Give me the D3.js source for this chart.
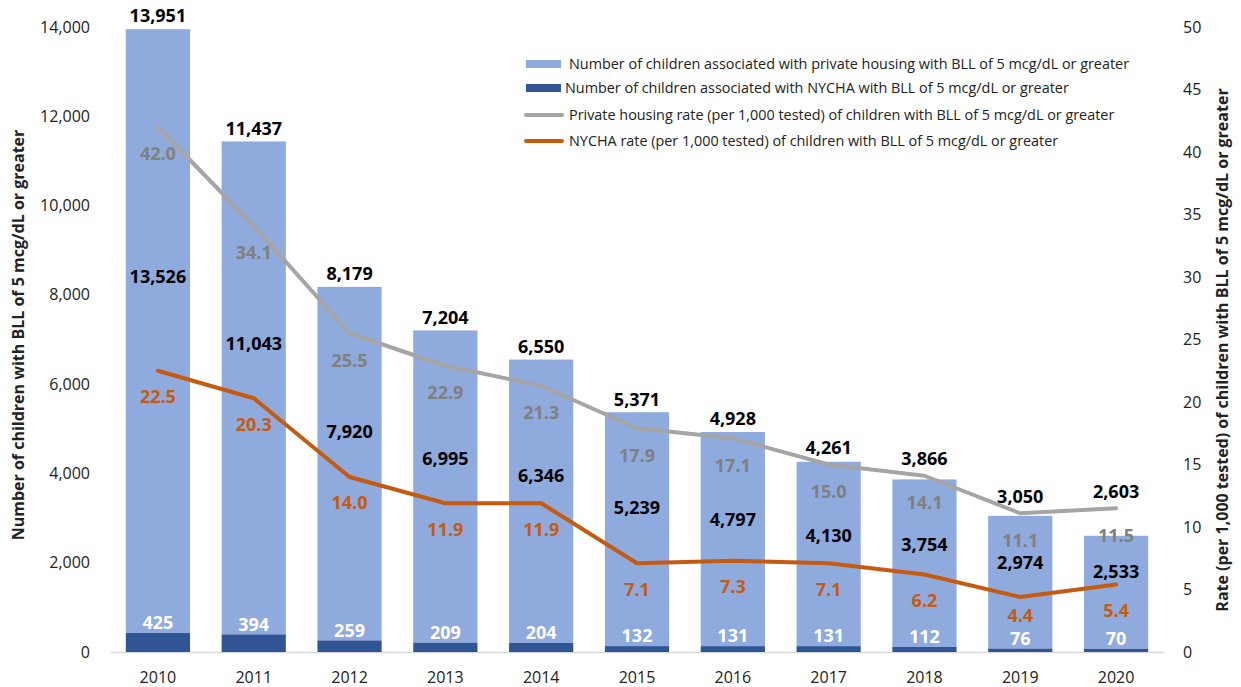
<!DOCTYPE html>
<html>
<head>
<meta charset="utf-8">
<script src="https://cdn.jsdelivr.net/npm/d3@7"></script>
<style>
  body { margin: 0; background: #fff; }
  svg { display: block; font-family: "Open Sans", sans-serif; }
</style>
</head>
<body>
<svg width="1241" height="687"></svg>
<script>
const years = ['2010', '2011', '2012', '2013', '2014', '2015', '2016', '2017', '2018', '2019', '2020'];
const privateCounts = [13526, 11043, 7920, 6995, 6346, 5239, 4797, 4130, 3754, 2974, 2533];
const nychaCounts = [425, 394, 259, 209, 204, 132, 131, 131, 112, 76, 70];
const totals = [13951, 11437, 8179, 7204, 6550, 5371, 4928, 4261, 3866, 3050, 2603];
const privateRate = [42.0, 34.1, 25.5, 22.9, 21.3, 17.9, 17.1, 15.0, 14.1, 11.1, 11.5];
const nychaRate = [22.5, 20.3, 14.0, 11.9, 11.9, 7.1, 7.3, 7.1, 6.2, 4.4, 5.4];
const leftTicks = [0, 2000, 4000, 6000, 8000, 10000, 12000, 14000];
const rightTicks = [0, 5, 10, 15, 20, 25, 30, 35, 40, 45, 50];
const legendLabels = [
  'Number of children associated with private housing with BLL of 5 mcg/dL or greater',
  'Number of children associated with NYCHA with BLL of 5 mcg/dL or greater',
  'Private housing rate (per 1,000 tested) of children with BLL of 5 mcg/dL or greater',
  'NYCHA rate (per 1,000 tested) of children with BLL of 5 mcg/dL or greater'
];

const colors = {priv: '#8faadc', nycha: '#2f5597', privLine: '#a5a5a5', nychaLine: '#c55a11',
                privLabel: '#808080', nychaLabel: '#c55a11'};

const svg = d3.select('svg');
const plotL = 110, plotR = 1164, plotT = 27, plotB = 652;

const x = d3.scaleBand().domain(years).range([plotL, plotR]).paddingInner(0.33).paddingOuter(0.165);
const y = d3.scaleLinear().domain([0, 14000]).range([plotB, plotT]);
const y2 = d3.scaleLinear().domain([0, 50]).range([plotB, plotT]);

//-------------AXES-------------------------------------------
const axisL = svg.append('g')
  .attr('transform', 'translate(' + plotL + ',0)')
  .call(d3.axisLeft(y).tickValues(leftTicks).tickSize(0).tickPadding(20).tickFormat(d3.format(',')));
axisL.select('.domain').remove();
axisL.selectAll('text').attr('font-size', 16).attr('fill', '#222').attr('font-family', '"Open Sans", sans-serif');

const axisR = svg.append('g')
  .attr('transform', 'translate(1183,0)')
  .call(d3.axisRight(y2).tickValues(rightTicks).tickSize(0).tickPadding(0));
axisR.select('.domain').remove();
axisR.selectAll('text').attr('font-size', 16).attr('fill', '#222').attr('font-family', '"Open Sans", sans-serif');

const axisB = svg.append('g')
  .attr('transform', 'translate(0,' + plotB + ')')
  .call(d3.axisBottom(x).tickSize(0).tickPadding(20));
axisB.select('.domain').attr('stroke', '#d9d9d9').attr('stroke-width', 1.5);
axisB.selectAll('text').attr('font-size', 16).attr('fill', '#222').attr('font-family', '"Open Sans", sans-serif');

svg.append('text')
  .attr('transform', 'translate(24,' + 335 + ') rotate(-90)')
  .attr('text-anchor', 'middle')
  .attr('font-size', 16).attr('font-weight', 'bold').attr('fill', '#222')
  .text('Number of children with BLL of 5 mcg/dL or greater');

svg.append('text')
  .attr('transform', 'translate(1228,' + 350 + ') rotate(-90)')
  .attr('text-anchor', 'middle')
  .attr('font-size', 16).attr('font-weight', 'bold').attr('fill', '#222')
  .text('Rate (per 1,000 tested) of children with BLL of 5 mcg/dL or greater');

//-------------BARS-------------------------------------------
const bars = svg.append('g');
years.forEach((yr, i) => {
  bars.append('rect')
    .attr('x', x(yr)).attr('width', x.bandwidth())
    .attr('y', y(nychaCounts[i] + privateCounts[i]))
    .attr('height', y(nychaCounts[i]) - y(nychaCounts[i] + privateCounts[i]))
    .attr('fill', colors.priv);
  bars.append('rect')
    .attr('x', x(yr)).attr('width', x.bandwidth())
    .attr('y', y(nychaCounts[i]))
    .attr('height', y(0) - y(nychaCounts[i]))
    .attr('fill', colors.nycha);
});

//-------------LINES------------------------------------------
const line = d3.line()
  .x((d, i) => x(years[i]) + x.bandwidth() / 2)
  .y(d => y2(d));

svg.append('path').datum(privateRate)
  .attr('fill', 'none').attr('stroke', colors.privLine).attr('stroke-width', 4)
  .attr('stroke-linejoin', 'round').attr('stroke-linecap', 'round')
  .attr('d', line);
svg.append('path').datum(nychaRate)
  .attr('fill', 'none').attr('stroke', colors.nychaLine).attr('stroke-width', 4)
  .attr('stroke-linejoin', 'round').attr('stroke-linecap', 'round')
  .attr('d', line);

//-------------LABELS-----------------------------------------
// label y values below are text centres; dy shifts them onto the baseline
const fmt = d3.format(',');
const labels = svg.append('g').attr('text-anchor', 'middle').attr('font-weight', 'bold').attr('font-size', 18);
years.forEach((yr, i) => {
  const cx = x(yr) + x.bandwidth() / 2;
  const segTop = y(totals[i]);
  const segBot = y(nychaCounts[i]);
  const h = segBot - segTop;
  const grayY = y2(privateRate[i]);
  const orangeY = y2(nychaRate[i]);

  // total: above the bar, but kept clear of the gray line where they meet
  const totalY = Math.min(segTop - 13, grayY - 17);
  labels.append('text').attr('x', cx).attr('y', totalY).attr('dy', '0.35em')
    .attr('fill', '#000').text(fmt(totals[i]));

  const privY = segTop + h * 0.41 - Math.max(0, (200 - h) * 0.12);
  labels.append('text').attr('x', cx).attr('y', privY).attr('dy', '0.35em')
    .attr('fill', '#000').text(fmt(privateCounts[i]));

  labels.append('text').attr('x', cx).attr('y', segBot - 10).attr('dy', '0.35em')
    .attr('fill', '#fff').text(fmt(nychaCounts[i]));

  labels.append('text').attr('x', cx).attr('y', grayY + 27).attr('dy', '0.35em')
    .attr('fill', colors.privLabel).text(privateRate[i].toFixed(1));

  labels.append('text').attr('x', cx).attr('y', Math.min(orangeY + 26, segBot - 33)).attr('dy', '0.35em')
    .attr('fill', colors.nychaLabel).text(nychaRate[i].toFixed(1));
});

//-------------LEGEND-----------------------------------------
const legend = svg.append('g').attr('font-size', 14.4).attr('fill', '#222');
const rowsY = [64, 88, 115, 141];
legend.append('rect').attr('x', 526).attr('y', rowsY[0] - 4).attr('width', 35).attr('height', 8).attr('fill', colors.priv);
legend.append('rect').attr('x', 526).attr('y', rowsY[1] - 4).attr('width', 35).attr('height', 8).attr('fill', colors.nycha);
legend.append('line').attr('x1', 526).attr('x2', 562).attr('y1', rowsY[2]).attr('y2', rowsY[2])
  .attr('stroke', colors.privLine).attr('stroke-width', 4).attr('stroke-linecap', 'round');
legend.append('line').attr('x1', 526).attr('x2', 562).attr('y1', rowsY[3]).attr('y2', rowsY[3])
  .attr('stroke', colors.nychaLine).attr('stroke-width', 4).attr('stroke-linecap', 'round');
const textX = [569, 565, 569, 569];
legendLabels.forEach((t, i) => {
  legend.append('text').attr('x', textX[i]).attr('y', rowsY[i]).attr('dy', '0.35em').text(t);
});
</script>
</body>
</html>
